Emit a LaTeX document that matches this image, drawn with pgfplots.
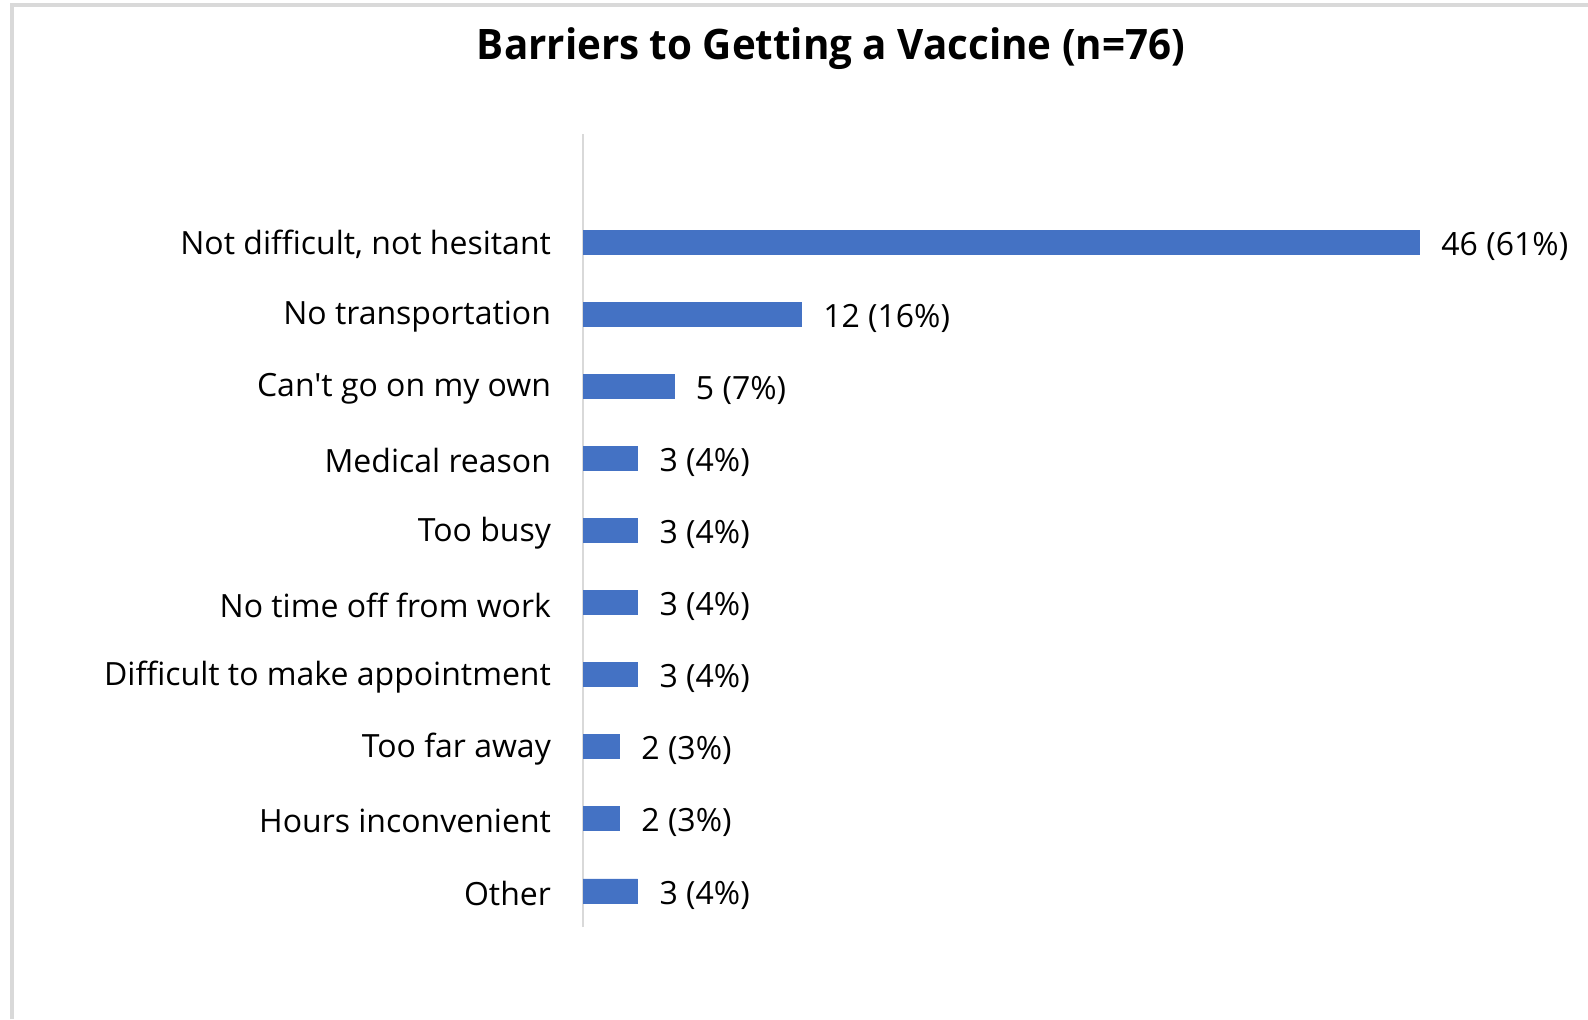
\documentclass[border=0pt]{standalone}
\usepackage{fontspec}
\setmainfont{Open Sans}[Ligatures=TeXOff]
\newfontfamily\titlefont{Open Sans}[FakeStretch=0.96]
\usepackage{pgfplots}
\pgfplotsset{compat=1.18}
\definecolor{barblue}{HTML}{4472C4}
\definecolor{axgray}{HTML}{D9D9D9}
\begin{document}
\begin{tikzpicture}[x=1pt,y=1pt]
\path[use as bounding box] (0,0) rectangle (794,509.5);
\draw[axgray,line width=2pt] (6,0) -- (6,507) -- (794,507);
\node[font=\titlefont\fontsize{21}{24}\selectfont\bfseries] at (415.5,485) {Barriers to Getting a Vaccine (n=76)};
\begin{axis}[
  at={(291.5pt,46pt)}, anchor=south west,
  scale only axis, width=500pt, height=396.5pt,
  xbar, bar width=12pt,
  xmin=0, xmax=55, ymin=-0.5, ymax=10.5,
  axis x line=none,
  axis y line*=left,
  y axis line style={axgray,line width=1pt,-},
  ytick={0,...,9},
  yticklabels={Other,Hours inconvenient,Too far away,Difficult to make appointment,No time off from work,Too busy,Medical reason,Can't go on my own,No transportation,{Not difficult, not hesitant}},
  major tick length=0pt,
  yticklabel style={font=\fontsize{16}{19}\selectfont, xshift=-12.5pt, yshift=-1.2pt},
  nodes near coords,
  point meta=explicit symbolic,
  nodes near coords style={font=\fontsize{16}{19}\selectfont, anchor=west, xshift=7.5pt, yshift=-2pt},
  clip=false,
]
\addplot[draw=barblue, fill=barblue] coordinates {
(3,0) [3 (4\%)]
(2,1) [2 (3\%)]
(2,2) [2 (3\%)]
(3,3) [3 (4\%)]
(3,4) [3 (4\%)]
(3,5) [3 (4\%)]
(3,6) [3 (4\%)]
(5,7) [5 (7\%)]
(12,8) [12 (16\%)]
(46,9) [46 (61\%)]
};
\end{axis}
\end{tikzpicture}
\end{document}
